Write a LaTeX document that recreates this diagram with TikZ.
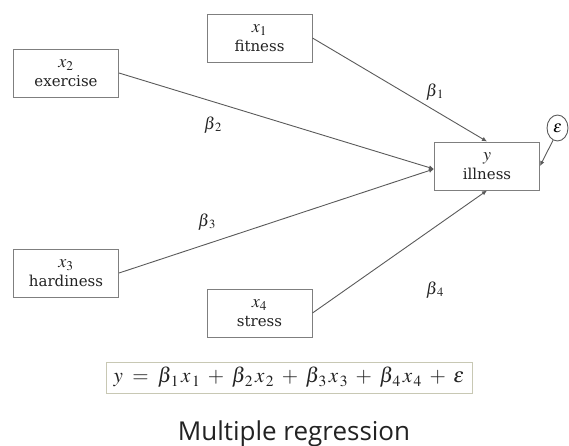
\documentclass[tikz,border=0pt]{standalone}
\usepackage{mathptmx}
\usepackage[no-math]{fontspec}
\setmainfont{DejaVu Serif}
\newfontfamily\titlefont{Open Sans}
\usetikzlibrary{arrows.meta,shapes.geometric}
\definecolor{boxgray}{HTML}{7F7F7F}
\definecolor{linegray}{HTML}{5A5A5A}
\definecolor{eqborder}{HTML}{C8C8B4}
\definecolor{txt}{HTML}{222222}
\newcommand{\bigvar}[1]{{\fontsize{18}{19}\selectfont$#1$}}
\newcommand{\bterm}[1]{\beta_{\kern1.5pt #1}\kern2pt x_{\kern1.5pt #1}}
\begin{document}
\begin{tikzpicture}[x=1pt,y=-1pt,
  var/.style={draw=boxgray, line width=1pt, minimum width=105pt, minimum height=48pt,
    inner sep=0pt, align=center, text=txt, font=\fontsize{15}{19}\selectfont},
  conn/.style={draw=linegray, line width=0.9pt, -{Latex[length=5pt,width=4.5pt]}},
  coef/.style={font=\fontsize{17}{18}\selectfont, inner sep=0pt, text=txt}]
\useasboundingbox (0,0) rectangle (569,445);
\node[var] (x1) at (259.5,38) {\bigvar{x_1}\\fitness};
\node[var] (x2) at (66,73) {\bigvar{x_2}\\exercise};
\node[var] (x3) at (66,273) {\bigvar{x_3}\\hardiness};
\node[var] (x4) at (259.5,313) {\bigvar{x_4}\\stress};
\node[var] (y) at (487,166) {\bigvar{y}\\illness};
\node[draw=linegray, line width=0.9pt, ellipse, minimum width=21pt, minimum height=26pt,
  inner sep=0pt, font=\fontsize{17}{18}\selectfont] (eps) at (557.5,128) {$\varepsilon$};
\draw[conn] (x1.east) -- (y.north);
\draw[conn] (x2.east) -- ([yshift=-3pt]y.west);
\draw[conn] (x3.east) -- ([yshift=-3pt]y.west);
\draw[conn] (x4.east) -- (y.south);
\draw[conn] (eps.250) -- (y.east);
\node[coef] (b1) at (435,92) {$\beta_{\kern1.5pt 1}$};
\node[coef] (b2) at (213,125) {$\beta_{\kern1.5pt 2}$};
\node[coef] (b3) at (207,222) {$\beta_{\kern1.5pt 3}$};
\node[coef] (b4) at (435,290) {$\beta_{\kern1.5pt 4}$};
\node[draw=eqborder, line width=1pt, minimum width=366pt, minimum height=31pt, inner sep=0pt,
  text=txt, font=\fontsize{21}{24}\selectfont] (eq) at (289,377.5)
  {$y \;=\; \bterm{1} \;+\; \bterm{2} \;+\; \bterm{3} \;+\; \bterm{4} \;+\; \varepsilon$};
\node[font=\titlefont\fontsize{26}{30}\selectfont, anchor=base, text=txt, inner sep=0pt] (title)
  at (294,440) {Multiple regression};
\end{tikzpicture}
\end{document}
